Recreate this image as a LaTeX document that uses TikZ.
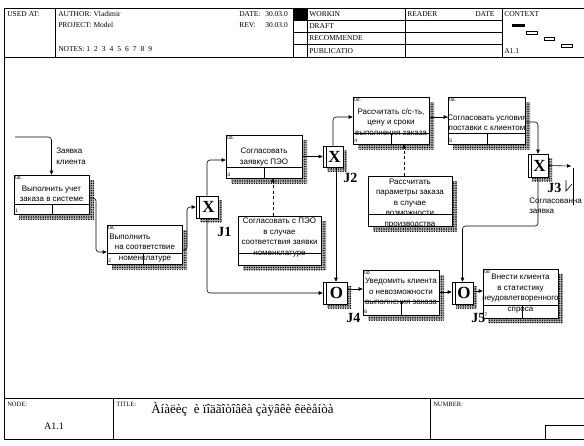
\documentclass[tikz,border=0pt]{standalone}
\usepackage{fontspec}
\setmainfont{Liberation Serif}
\setsansfont{Liberation Sans}
\usetikzlibrary{arrows.meta,patterns.meta,fit}
\newcommand\hdrfont{\rmfamily\fontsize{7.5}{8}\selectfont}
\newcommand\smlfont{\rmfamily\fontsize{6.5}{7}\selectfont}
\newcommand\boxfont{\sffamily\fontsize{8}{10.5}\selectfont}
\newcommand\tinyfont{\sffamily\fontsize{5}{5.5}\selectfont}
\newcommand\jfont{\rmfamily\bfseries\fontsize{17}{17}\selectfont}
\newcommand\jlfont{\rmfamily\bfseries\fontsize{14}{14}\selectfont}
\tikzset{
  shd/.style={preaction={fill=black!30},pattern={Dots[distance=2.4pt,radius=0.8pt]},pattern color=black},
  arr/.style={-{Triangle[length=4pt,width=3.5pt]},rounded corners=3pt},
  dref/.style={dash pattern=on 3pt off 2.5pt,-{Triangle[length=4pt,width=3.5pt]}},
  bx/.style={draw,fill=white,inner sep=0pt},
  txt/.style={inner sep=0pt,align=center,font=\boxfont},
  hd/.style={anchor=west,inner sep=0pt,font=\hdrfont},
  sm/.style={anchor=west,inner sep=0pt,font=\smlfont},
  jl/.style={anchor=west,inner sep=0pt,font=\jlfont},
}
% activity box: name x1 y1 x2 y2 divider-y split-x number
\newcommand\ibox[8]{%
  \fill[shd] (#4,#3+5) rectangle (#4+5,#5+5);
  \fill[shd] (#2+5,#5) rectangle (#4,#5+5);
  \node[bx,fit={(#2,#3)(#4,#5)}] (#1) {};
  \draw (#2,#6) -- (#4,#6) (#7,#6) -- (#7,#5);
  \node[anchor=north west,inner sep=0.8pt,font=\tinyfont] (#1c) at (#2,#3) {0ð.};
  \node[anchor=south west,inner sep=1pt,font=\tinyfont] (#1n) at (#2,#5) {#8};
}
% referent box: name x1 y1 x2 y2 divider-y
\newcommand\rbox[6]{%
  \fill[shd] (#4,#3+5) rectangle (#4+5,#5+5);
  \fill[shd] (#2+5,#5) rectangle (#4,#5+5);
  \node[bx,fit={(#2,#3)(#4,#5)}] (#1) {};
  \draw (#2,#6) -- (#4,#6);
}
% junction: name x1 y1 x2 y2 letter
\newcommand\jbox[6]{%
  \fill[shd] (#4,#3+4) rectangle (#4+4,#5+4);
  \fill[shd] (#2+4,#5) rectangle (#4,#5+4);
  \node[bx,fit={(#2,#3)(#4,#5)}] (#1) {};
  \draw (#2+3,#3) -- (#2+3,#5);
  \node[font=\jfont,inner sep=0pt] (#1l) at ({(#2+3+#4)/2},{(#3+#5)/2}) {#6};
}
\begin{document}
\begin{tikzpicture}[x=1pt,y=-1pt,line width=0.6pt]
\useasboundingbox (0,0) rectangle (584,445);
% ---------------- header ----------------
\draw (4,8) -- (584,8) (4,57) -- (584,57);
\draw (4,8) -- (4,439);
\draw (55,8) -- (55,57) (293,8) -- (293,57) (307,8) -- (307,57)
      (405,8) -- (405,57) (502,8) -- (502,57);
\draw (293,20.25) -- (502,20.25) (293,32.5) -- (502,32.5) (293,44.75) -- (502,44.75);
\fill (293,8) rectangle (307,20.25);
\node[hd] (h1) at (7,14) {USED AT:};
\node[hd] (h2) at (58,14) {AUTHOR: Vladimir};
\node[hd] (h3) at (58,25) {PROJECT: Model};
\node[hd] (h4) at (58,49) {NOTES: 1\kern4pt 2\kern4pt 3\kern4pt 4\kern4pt 5\kern4pt 6\kern4pt 7\kern4pt 8\kern4pt 9};
\node[hd] (h5) at (239,14) {DATE:};
\node[hd] (h6) at (265,14) {30.03.0};
\node[hd] (h7) at (239,25) {REV:};
\node[hd] (h8) at (265,25) {30.03.0};
\node[hd] (h9) at (309,14) {WORKIN};
\node[hd] (h10) at (309,26.5) {DRAFT};
\node[hd] (h11) at (309,38.5) {RECOMMENDE};
\node[hd] (h12) at (309,51) {PUBLICATIO};
\node[hd] (h13) at (407,14) {READER};
\node[hd] (h14) at (475,14) {DATE};
\node[hd] (h15) at (504,14) {CONTEXT};
\node[hd] (h16) at (504,51) {A1.1};
\fill (512,24) rectangle (525,27);
\draw[line width=0.5pt] (526,31) rectangle (537,34) (544,37) rectangle (554,40) (561,44) rectangle (572,47);
% ---------------- footer ----------------
\draw (4,398) -- (584,398) (4,439) -- (584,439);
\draw (113,398) -- (113,439) (430,398) -- (430,439);
\draw (545,439) -- (545,425) -- (584,425);
\node[sm] (f1) at (7,404) {NODE:};
\node[sm] (f2) at (116,404) {TITLE:};
\node[sm] (f3) at (433,404) {NUMBER:};
\node[inner sep=0pt,font=\rmfamily\fontsize{10}{10}\selectfont] (f4) at (54,426) {A1.1};
\node[anchor=west,inner sep=0pt,font=\rmfamily\fontsize{13}{13}\selectfont] (f5) at (151,409) {Àíàëèç\ \ è ïîäãîòîâêà çàÿâêè êëèåíòà};
% ---------------- boxes ----------------
\ibox{b1}{14}{175}{89}{214}{204}{52}{1}
\ibox{b2}{107}{225}{182}{264}{253}{143}{2}
\ibox{b3}{226}{135}{302}{178}{167}{264}{3}
\ibox{b4}{353}{97}{429}{144}{133}{391}{4}
\ibox{b5}{448}{97}{525}{144}{133}{487}{5}
\ibox{b6}{363}{270}{439}{315}{301}{401}{6}
\ibox{b7}{483}{269}{558}{318}{305}{522}{7}
\rbox{rA}{238}{216}{321}{265}{253}
\rbox{rB}{368}{176}{452}{226}{214}
\jbox{J1}{196}{196}{218}{218}{X}
\jbox{J2}{323}{146}{343}{167}{X}
\jbox{J3}{528}{154}{548}{177}{X}
\jbox{J4}{323}{282}{347}{304}{O}
\jbox{J5}{452}{282}{473}{304}{O}
% ---------------- connectors ----------------
\coordinate (in1) at (15,137);
\draw[arr] (in1) -| (b1.north);
\draw[arr] (b1.east |- 0,198) -- (96,198) |- (b2.west |- 0,252);
\draw[arr] (b2.east |- 0,250) -- (187,250) |- (J1.west);
\draw[arr] (J1.north) |- (b3.west |- 0,160);
\draw[arr] (J1.south) |- (J4.west);
\draw[arr] (b3.east |- J2.west) -- (J2.west);
\draw[arr] (J2.north) |- (b4.west |- 0,117);
\draw[arr] (J2.south -| 336,0) -- (J4.north -| 336,0);
\draw[arr] (b4.east |- 0,117) -- (b5.west |- 0,117);
\draw[arr] (b5.east |- 0,122) -| (J3.north);
\coordinate (out1) at (571,166);
\draw[arr] (J3.east) -- (out1);
\draw (573,168) -- (573,205);
\draw (566,180) -- (566,191) -- (572,184);
\draw[arr] (J3.south) |- (J5.north |- 0,226) -- (J5.north);
\draw[arr] (J4.east |- 0,289) -- (b6.west |- 0,289);
\draw[arr] (b6.east |- 0,292) -- (J5.west |- 0,292);
\draw[arr] (J5.east |- 0,291) -- (b7.west |- 0,291);
\draw[dref] (rA.north -| 273,0) -- (b3.south -| 273,0);
\draw[dref] (rB.north -| 404,0) -- (b4.south -| 404,0);
% ---------------- texts ----------------
\node[txt] (t1) at (51.5,194) {Выполнить учет\\заказа в системе};
\node[txt,anchor=west] (t2a) at (109,237) {Выполнить};
\node[txt] (t2b) at (145,253.5) {на соответствие\\номенклатуре};
\node[txt] (t3) at (264,157) {Согласовать\\заявкус ПЭО};
\node[txt] (t4) at (391,122) {Рассчитать с/с-ть,\\цену и сроки\\выполнения заказа};
\node[txt] (t5) at (487,122.5) {Согласовать условия\\поставки с клиентом};
\node[txt] (t6) at (401,291.5) {Уведомить клиента\\о невозможности\\выполнения заказа};
\node[txt] (t7) at (520.5,293.5) {Внести клиента\\в статистику\\неудовлетворенного\\спроса};
\node[txt] (tA) at (279.5,237.5) {Согласовать с ПЭО\\в случае\\соответствия заявки\\номенклатуре};
\node[txt] (tB) at (410,203.5) {Рассчитать\\параметры заказа\\в случае\\возможности\\производства};
\node[txt,anchor=west,align=left] (lin) at (56,156) {Заявка\\клиента};
\node[txt,anchor=west,align=left] (lout) at (529,205.5) {Согласованна\\заявка};
\node[jl] (L1) at (217,232) {J1};
\node[jl] (L2) at (343,178) {J2};
\node[jl] (L3) at (547,188) {J3};
\node[jl] (L4) at (346,318) {J4};
\node[jl] (L5) at (471,318) {J5};
\end{tikzpicture}
\end{document}
